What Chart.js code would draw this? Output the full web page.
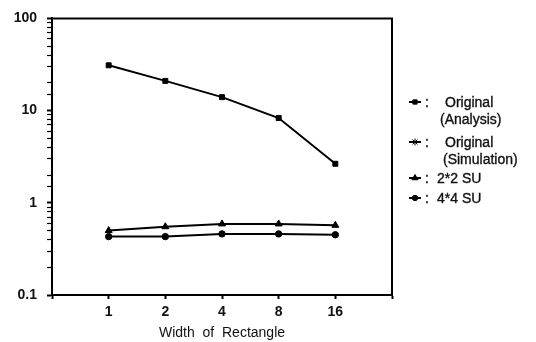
<!DOCTYPE html>
<html>
<head>
<meta charset="utf-8">
<script src="https://cdn.jsdelivr.net/npm/chart.js@4.4.1/dist/chart.umd.min.js"></script>
<style>
    html, body { margin: 0; padding: 0; background: #fff; }
    #wrap { position: relative; width: 536px; height: 342px; }
    #legend { position: absolute; left: 0; top: 0; width: 536px; height: 342px; pointer-events: none;
              font: 14px "Liberation Sans", Arial, sans-serif; color: #111; -webkit-text-stroke: 0.35px #111; }
    .txt { position: absolute; white-space: pre; line-height: 16px; }
    .icon { position: absolute; }
</style>
</head>
<body>
<div id="wrap">
    <canvas id="chart" width="536" height="342"></canvas>
    <div id="legend"></div>
</div>
<script>
        // Data (log scale)
        const widths = ['1', '2', '4', '8', '16'];
        const originalAnalysis = [31, 21, 14, 8.3, 2.65];
        const originalSimulation = [null, null, null, null, null];
        const su2x2 = [0.50, 0.55, 0.59, 0.59, 0.57];
        const su4x4 = [0.43, 0.43, 0.46, 0.46, 0.45];
        const yTickLabels = [0.1, 1, 10, 100];

        const FONT = '"Liberation Sans", Arial, sans-serif';

        // pad the category axis with an empty slot on both sides
        const pad = arr => [null, ...arr, null];

        const frame = {
            id: 'frame',
            afterDatasetsDraw(chart) {
                const { ctx, chartArea: a } = chart;
                ctx.save();
                ctx.strokeStyle = '#000';
                ctx.lineWidth = 2;
                ctx.beginPath();
                ctx.moveTo(a.left, a.top);
                ctx.lineTo(a.right, a.top);
                ctx.lineTo(a.right, a.bottom);
                ctx.stroke();
                ctx.restore();
            }
        };

        const series = [
            { label: 'Original (Analysis)', lines: ['Original', '(Analysis)'], data: originalAnalysis, style: 'rect', radius: 3.5 },
            { label: 'Original (Simulation)', lines: ['Original', '(Simulation)'], data: originalSimulation, style: 'star', radius: 4 },
            { label: '2*2 SU', lines: ['2*2 SU'], data: su2x2, style: 'triangle', radius: 4 },
            { label: '4*4 SU', lines: ['4*4 SU'], data: su4x4, style: 'circle', radius: 3.2 }
        ];

        const ctx = document.getElementById('chart').getContext('2d');
        const chart = new Chart(ctx, {
            type: 'line',
            data: {
                labels: ['', ...widths, ''],
                datasets: series.map(s => ({
                    label: s.label,
                    data: pad(s.data),
                    borderColor: '#000',
                    backgroundColor: '#000',
                    borderWidth: 2,
                    pointStyle: s.style,
                    pointRadius: s.radius,
                    pointBorderWidth: 1,
                    tension: 0
                }))
            },
            options: {
                responsive: false,
                animation: false,
                layout: { padding: { top: 11, right: 144, left: 0, bottom: 0 } },
                plugins: {
                    legend: { display: false },
                    tooltip: { enabled: false }
                },
                scales: {
                    x: {
                        type: 'category',
                        offset: false,
                        afterFit: scale => { scale.height = 47; },
                        border: { display: true, color: '#000', width: 2 },
                        grid: { drawOnChartArea: false, tickLength: 4, tickColor: '#000', tickWidth: 2 },
                        ticks: { color: '#111', padding: 5, autoSkip: false, maxRotation: 0,
                                 font: { family: FONT, size: 14, weight: 'bold' } },
                        title: {
                            display: true,
                            text: 'Width  of  Rectangle',
                            color: '#111',
                            font: { family: FONT, size: 14 },
                            padding: { top: 0, bottom: 0 }
                        }
                    },
                    y: {
                        type: 'logarithmic',
                        min: 0.1,
                        max: 100,
                        afterFit: scale => { scale.width = 52; },
                        border: { display: true, color: '#000', width: 2 },
                        grid: {
                            drawOnChartArea: false,
                            tickLength: 5,
                            tickColor: '#000',
                            tickWidth: c => yTickLabels.includes(c.tick && c.tick.value) ? 2 : 1.2
                        },
                        ticks: {
                            color: '#111',
                            padding: 10,
                            autoSkip: false,
                            font: { family: FONT, size: 14, weight: 'bold' },
                            callback: v => yTickLabels.includes(v) ? String(v) : ''
                        }
                    }
                }
            },
            plugins: [frame]
        });

        // HTML legend at the right of the plot
        const legendPos = [
            { y: 102, textX: 445, nextX: 440 },
            { y: 142, textX: 445, nextX: 443 },
            { y: 178, textX: 437 },
            { y: 198, textX: 437 }
        ];
        const legend = document.getElementById('legend');
        series.forEach((s, i) => {
            const p = legendPos[i];
            const c = document.createElement('canvas');
            c.width = 14; c.height = 12;
            c.className = 'icon';
            c.style.left = '408px';
            c.style.top = (p.y - 6) + 'px';
            const g = c.getContext('2d');
            g.strokeStyle = '#000'; g.fillStyle = '#000'; g.lineWidth = 2;
            g.beginPath(); g.moveTo(1, 6); g.lineTo(13, 6); g.stroke();
            g.lineWidth = 1;
            Chart.helpers.drawPoint(g, { pointStyle: s.style, radius: s.radius - 0.5, rotation: 0, borderWidth: 1 }, 7, 6);
            legend.appendChild(c);

            const colon = document.createElement('div');
            colon.className = 'txt';
            colon.textContent = ':';
            colon.style.left = '425px';
            colon.style.top = (p.y - 8) + 'px';
            legend.appendChild(colon);

            s.lines.forEach((line, k) => {
                const d = document.createElement('div');
                d.className = 'txt';
                d.textContent = line;
                d.style.left = (k === 0 ? p.textX : p.nextX) + 'px';
                d.style.top = (p.y - 8 + k * 16.5) + 'px';
                legend.appendChild(d);
            });
        });
</script>
</body>
</html>
